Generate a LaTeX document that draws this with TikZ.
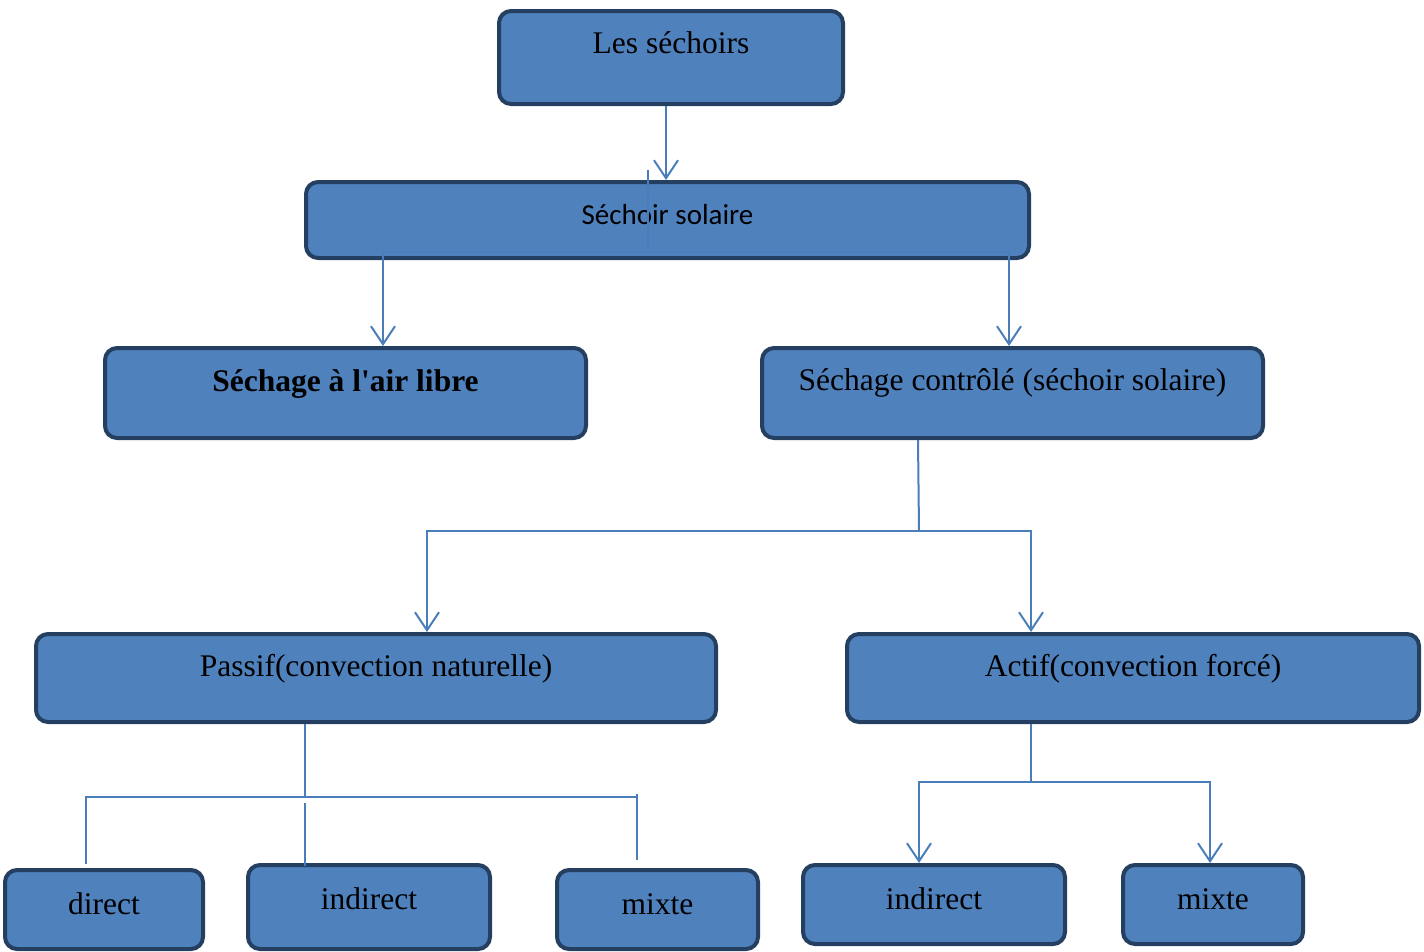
\documentclass[tikz,border=0pt]{standalone}
\usepackage{fontspec}
\setmainfont{Liberation Serif}[Ligatures=TeXOff]
\newfontfamily\calibri{Carlito}
\usetikzlibrary{arrows.meta}
\definecolor{boxfill}{HTML}{4F81BD}
\definecolor{boxborder}{HTML}{243F60}
\definecolor{conncol}{HTML}{4A7EBB}
\begin{document}
\begin{tikzpicture}[x=1pt,y=-1pt,
  box/.style={draw=boxborder, fill=boxfill, line width=4pt, rounded corners=12pt,
    inner sep=0pt, text height=22pt, anchor=center,
    font=\fontsize{31.5}{36}\selectfont},
  conn/.style={draw=conncol, line width=2pt},
  arr/.style={conn, -{Straight Barb[length=18pt,width=24pt,line width=2pt]}}]
\useasboundingbox (0,0) rectangle (1424,951);

% boxes
\node[box, minimum width=344pt, minimum height=93pt, text depth=30pt] (s1) at (671,57.5) {Les séchoirs};
\node[box, minimum width=723pt, minimum height=76pt, text depth=13pt, font=\calibri\fontsize{29}{34}\selectfont] (s2) at (667.5,220) {Séchoir solaire};
\node[box, minimum width=481pt, minimum height=90pt, text depth=25pt, font=\bfseries\fontsize{31.5}{36}\selectfont] (s3) at (345.5,393) {Séchage à l'air libre};
\node[box, minimum width=501pt, minimum height=90pt, text depth=27pt] (s4) at (1012.5,393) {Séchage contrôlé (séchoir solaire)};
\node[box, minimum width=680pt, minimum height=88pt, text depth=25pt] (s5) at (376,678) {Passif(convection naturelle)};
\node[box, minimum width=572pt, minimum height=88pt, text depth=25pt] (s6) at (1133,678) {Actif(convection forcé)};
\node[box, minimum width=198pt, minimum height=79pt, text depth=12pt] (s7) at (104,909.5) {direct};
\node[box, minimum width=242pt, minimum height=84pt, text depth=17pt] (s8) at (369,907) {indirect};
\node[box, minimum width=201pt, minimum height=79pt, text depth=12pt] (s9) at (657.5,909.5) {mixte};
\node[box, minimum width=262pt, minimum height=79pt, text depth=12pt] (s10) at (934,904.5) {indirect};
\node[box, minimum width=180pt, minimum height=79pt, text depth=12pt] (s11) at (1213,904.5) {mixte};

% helper coordinates
\coordinate (x383) at (383,0);
\coordinate (x1009) at (1009,0);
\coordinate (x918) at (918,0);
\coordinate (x427) at (427,0);
\coordinate (x1031) at (1031,0);
\coordinate (x305) at (305,0);
\coordinate (x666) at (666,0);
\coordinate (x919) at (919,0);
\coordinate (x1210) at (1210,0);
\coordinate (t1) at (648,170);
\coordinate (j1) at (648,252);
\coordinate (j2) at (919,531);
\coordinate (j3) at (305,797);
\coordinate (l7) at (86,864);
\coordinate (m8a) at (305,803);
\coordinate (m8b) at (305,866);
\coordinate (m9a) at (637,794);
\coordinate (m9b) at (637,860);
\coordinate (j4) at (1031,782);

% connectors
\draw[arr] (s1.south -| x666) -- (s2.north -| x666);
\draw[conn] (t1) -- (j1);
\draw[arr] (j1) -| (s3.north -| x383);
\draw[arr] (j1) -| (s4.north -| x1009);
\draw[conn] (s4.south -| x918) -- (j2);
\draw[arr] (j2) -| (s5.north -| x427);
\draw[arr] (j2) -| (s6.north -| x1031);
\draw[conn] (s5.south -| x305) -- (j3);
\draw[conn] (j3) -| (l7);
\draw[conn] (j3) -- (j3 -| m9a);
\draw[conn] (m8a) -- (m8b);
\draw[conn] (m9a) -- (m9b);
\draw[conn] (s6.south -| x1031) -- (j4);
\draw[arr] (j4) -| (s10.north -| x919);
\draw[arr] (j4) -| (s11.north -| x1210);
\end{tikzpicture}
\end{document}
